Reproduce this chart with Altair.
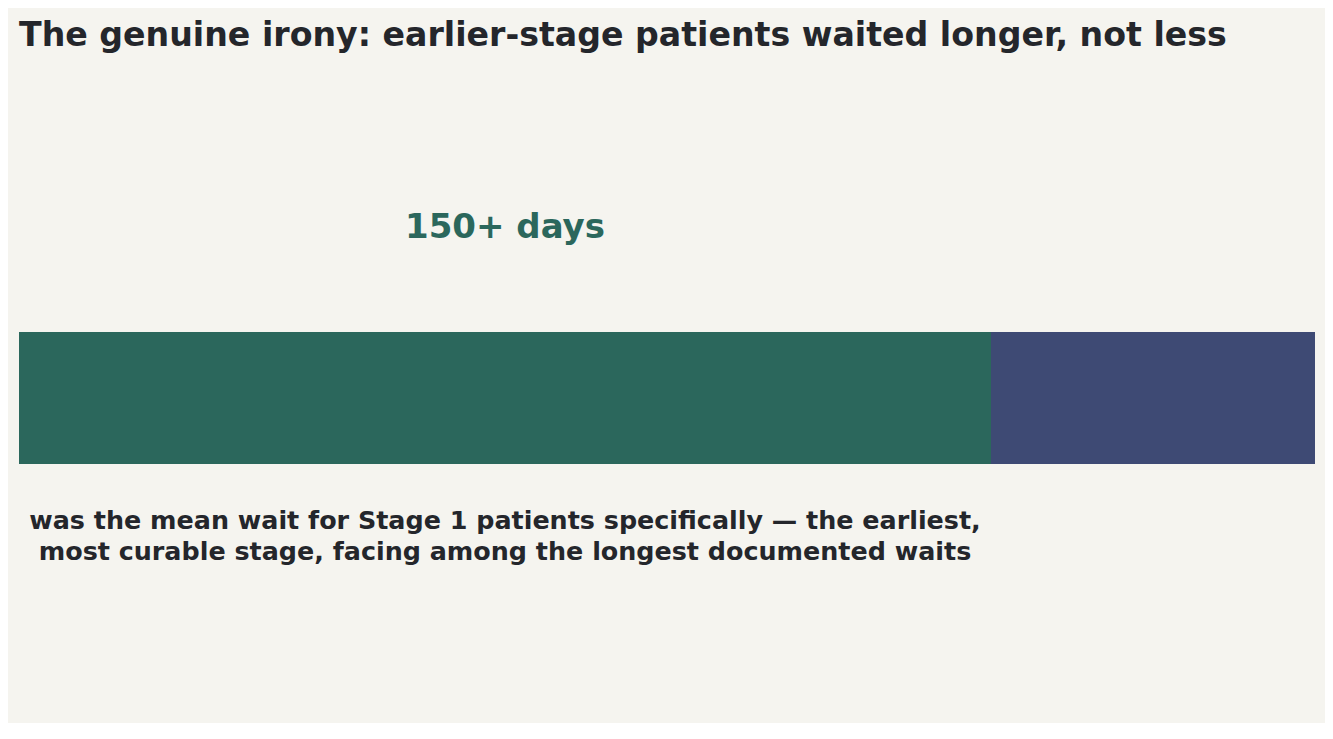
import altair as alt
import pandas as pd

segments = ["Stage 1 mean wait", "Remainder"]
values = [150, 50]
colors = ["#2b675c", "#3e4a74"]
headline = "150+ days"
caption = [
    "was the mean wait for Stage 1 patients specifically — the earliest,",
    "most curable stage, facing among the longest documented waits",
]
title_text = "The genuine irony: earlier-stage patients waited longer, not less"

df = pd.DataFrame({"segment": segments, "value": values, "row": ["bar"] * len(segments), "order": list(range(len(segments)))})
lab = pd.DataFrame({"row": ["bar"], "value": [values[0]], "headline": [headline], "caption": [caption]})

x_scale = alt.Scale(domain=[0, sum(values)], nice=False, zero=True)
y_scale = alt.Scale(domain=["bar"], paddingInner=0, paddingOuter=0)

bars = alt.Chart(df).mark_bar(size=132, strokeWidth=0).encode(
    x=alt.X("value:Q", stack="zero", scale=x_scale, axis=None),
    y=alt.Y("row:N", scale=y_scale, axis=None),
    color=alt.Color("segment:N", scale=alt.Scale(domain=segments, range=colors), legend=None),
    order=alt.Order("order:Q"),
)

base_lab = alt.Chart(lab).transform_calculate(mid="datum.value / 2")

head = base_lab.mark_text(
    font="DejaVu Sans", fontWeight="bold", fontSize=34, color=colors[0],
    align="center", baseline="alphabetic", dy=-160,
).encode(
    x=alt.X("mid:Q", scale=x_scale, axis=None),
    y=alt.Y("row:N", scale=y_scale, axis=None),
    text="headline:N",
)

cap = base_lab.mark_text(
    font="DejaVu Sans", fontWeight="bold", fontSize=25.4, color="#24262b",
    align="center", baseline="alphabetic", dy=131, lineHeight=31,
).encode(
    x=alt.X("mid:Q", scale=x_scale, axis=None),
    y=alt.Y("row:N", scale=y_scale, axis=None),
    text="caption",
)

chart = alt.layer(bars, head, cap).properties(
    width=1296,
    height=620,
    title=alt.TitleParams(
        text=title_text, anchor="start", font="DejaVu Sans", fontWeight="bold",
        fontSize=33.2, color="#24262b", offset=35,
    ),
    background="#f5f4ef",
    padding={"left": 11, "top": 80, "right": 10, "bottom": 15},
    autosize=alt.AutoSizeParams(type="none"),
).configure_view(stroke=None)

chart.save("out.html", embed_options={"renderer": "svg", "actions": False})
